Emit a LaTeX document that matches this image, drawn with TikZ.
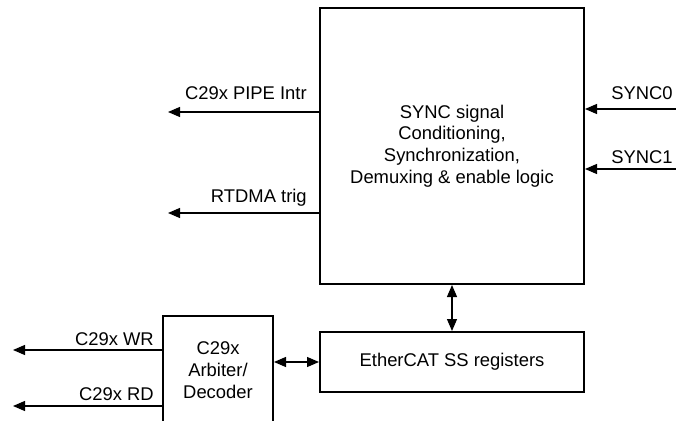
\documentclass[tikz,border=0pt]{standalone}
\usepackage{fontspec}
\setmainfont{Liberation Sans}
\usetikzlibrary{calc,arrows.meta}
\tikzset{
  block/.style = {draw, line width=1.5pt, inner sep=0pt, align=center},
  sig/.style = {line width=0.9pt, -{Triangle[length=9pt,width=7.5pt]}},
  bisig/.style = {line width=0.9pt, {Triangle[length=9pt,width=7.5pt]}-{Triangle[length=9pt,width=7.5pt]}},
  lbl/.style = {anchor=base east, inner sep=0pt}
}
\begin{document}
\begin{tikzpicture}[x=0.75pt, y=-0.75pt, font=\fontsize{13.8}{16.3}\selectfont]
\clip (0,0) rectangle (676,421);
% blocks
\node[block, minimum width=198pt, minimum height=207pt] (sync) at (452,146)
  {SYNC signal\\Conditioning,\\Synchronization,\\Demuxing \& enable logic};
\node[block, minimum width=198pt, minimum height=45pt] (eth) at (452,362)
  {EtherCAT SS registers};
\node[block, minimum width=82.5pt, minimum height=81pt] (arb) at (218,370)
  {C29x\\Arbiter/\\Decoder};
% free ends
\coordinate (pipe) at (168,112);
\coordinate (rtdma) at (168,213);
\coordinate (sync0) at (676,109);
\coordinate (sync1) at (676,169);
\coordinate (wr) at (13,350);
\coordinate (rd) at (13,406);
% outputs of sync block
\draw[sig] (pipe -| sync.west) -- (pipe);
\draw[sig] (rtdma -| sync.west) -- (rtdma);
\path (307,99) node[lbl]{C29x PIPE Intr};
\path (307,202) node[lbl]{RTDMA trig};
% inputs
\draw[sig] (sync0) -- (sync0 -| sync.east);
\draw[sig] (sync1) -- (sync1 -| sync.east);
\path (673,99) node[lbl]{SYNC0};
\path (673,163) node[lbl]{SYNC1};
% arbiter outputs
\draw[sig] (wr -| arb.west) -- (wr);
\draw[sig] (rd -| arb.west) -- (rd);
\path (154,345) node[lbl]{C29x WR};
\path (154,400) node[lbl]{C29x RD};
% bus links
\draw[bisig] (sync.south) -- (eth.north);
\draw[bisig] (eth.west -| arb.east) -- (eth.west);
\end{tikzpicture}
\end{document}
